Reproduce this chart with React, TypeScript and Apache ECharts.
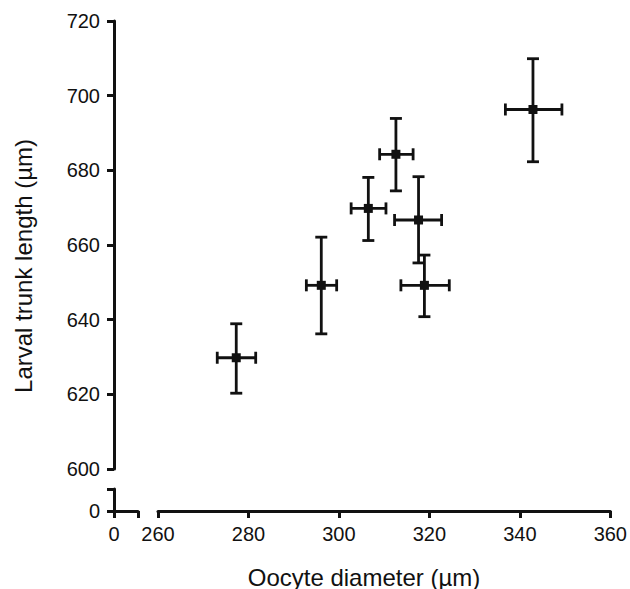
import React, { useEffect, useRef } from "react";
import * as echarts from "echarts";

const xMean = [277.3, 296.1, 306.5, 312.6, 317.6, 318.9, 342.9];
const yMean = [629.8, 649.2, 669.8, 684.3, 666.7, 649.2, 696.3];
const xLow = [273.1, 292.8, 302.7, 309.0, 312.3, 313.7, 336.8];
const xHigh = [281.6, 299.5, 310.4, 316.4, 322.7, 324.4, 349.3];
const yLow = [620.3, 636.2, 661.2, 674.5, 655.2, 640.8, 682.3];
const yHigh = [638.9, 662.1, 678.1, 693.9, 678.3, 657.3, 709.9];

const xTicks = [260, 280, 300, 320, 340, 360];
const yTicks = [600, 620, 640, 660, 680, 700, 720];
const xTitle = "Oocyte diameter (µm)";
const yTitle = "Larval trunk length (µm)";

const FONT = "'Liberation Sans', Arial, Helvetica, sans-serif";
const INK = "#111";

export default function App() {
  const ref = useRef<HTMLDivElement>(null);
  useEffect(() => {
    if (!ref.current) return;
    const chart = echarts.init(ref.current, null, { renderer: "svg" });
    const data = xMean.map((x, i) => [x, yMean[i], xLow[i], xHigh[i], yLow[i], yHigh[i]]);
    const axisLine = { show: true, lineStyle: { color: INK, width: 3 } };
    const axisTick = { show: true, length: 7, lineStyle: { color: INK, width: 3 } };
    const label = { color: INK, fontSize: 20, fontFamily: FONT };
    const option: any = {
      animation: false,
      grid: [
        { left: 158, top: 21, width: 456, height: 448 },
        { left: 114, top: 489, width: 24, height: 22 },
      ],
      xAxis: [
        {
          type: "value", gridIndex: 0, min: 260, max: 360, interval: 20, offset: 42,
          axisLine, axisTick, splitLine: { show: false },
          axisLabel: { ...label, margin: 13, formatter: (v: number) => (xTicks.includes(v) ? String(v) : "") },
        },
        {
          type: "value", gridIndex: 1, min: 0, max: 1, interval: 1,
          axisLine, axisTick, splitLine: { show: false },
          axisLabel: { ...label, margin: 13, formatter: (v: number) => (v === 0 ? "0" : "") },
        },
      ],
      yAxis: [
        {
          type: "value", gridIndex: 0, min: 600, max: 720, interval: 20, offset: 44,
          axisLine, axisTick, splitLine: { show: false },
          axisLabel: { ...label, margin: 14, formatter: (v: number) => (yTicks.includes(v) ? String(v) : "") },
        },
        {
          type: "value", gridIndex: 1, min: 0, max: 1, interval: 1,
          axisLine, axisTick, splitLine: { show: false },
          axisLabel: { ...label, margin: 14, formatter: (v: number) => (v === 0 ? "0" : "") },
        },
      ],
      graphic: [
        {
          type: "text",
          x: 364, y: 577,
          style: { text: xTitle, fill: INK, font: `24px ${FONT}`, align: "center", verticalAlign: "middle" },
        },
        {
          type: "text",
          x: 23, y: 266, rotation: Math.PI / 2,
          style: { text: yTitle, fill: INK, font: `24px ${FONT}`, align: "center", verticalAlign: "middle" },
        },
      ],
      series: [
        {
          type: "custom",
          xAxisIndex: 0,
          yAxisIndex: 0,
          data,
          clip: false,
          renderItem: (params: any, api: any) => {
            const c = api.coord([api.value(0), api.value(1)]);
            const xl = api.coord([api.value(2), api.value(1)]);
            const xh = api.coord([api.value(3), api.value(1)]);
            const yl = api.coord([api.value(0), api.value(4)]);
            const yh = api.coord([api.value(0), api.value(5)]);
            const cap = 6;
            const st = { stroke: INK, lineWidth: 2.8 };
            return {
              type: "group",
              children: [
                { type: "line", shape: { x1: xl[0], y1: c[1], x2: xh[0], y2: c[1] }, style: st },
                { type: "line", shape: { x1: c[0], y1: yl[1], x2: c[0], y2: yh[1] }, style: st },
                { type: "line", shape: { x1: xl[0], y1: c[1] - cap, x2: xl[0], y2: c[1] + cap }, style: st },
                { type: "line", shape: { x1: xh[0], y1: c[1] - cap, x2: xh[0], y2: c[1] + cap }, style: st },
                { type: "line", shape: { x1: c[0] - cap, y1: yl[1], x2: c[0] + cap, y2: yl[1] }, style: st },
                { type: "line", shape: { x1: c[0] - cap, y1: yh[1], x2: c[0] + cap, y2: yh[1] }, style: st },
                { type: "rect", shape: { x: c[0] - 4.5, y: c[1] - 4.5, width: 9, height: 9 }, style: { fill: INK } },
              ],
            };
          },
        },
      ],
    };
    chart.setOption(option);
    return () => chart.dispose();
  }, []);
  return <div ref={ref} style={{ position: "absolute", left: 0, top: 0, width: 630, height: 589 }} />;
}
